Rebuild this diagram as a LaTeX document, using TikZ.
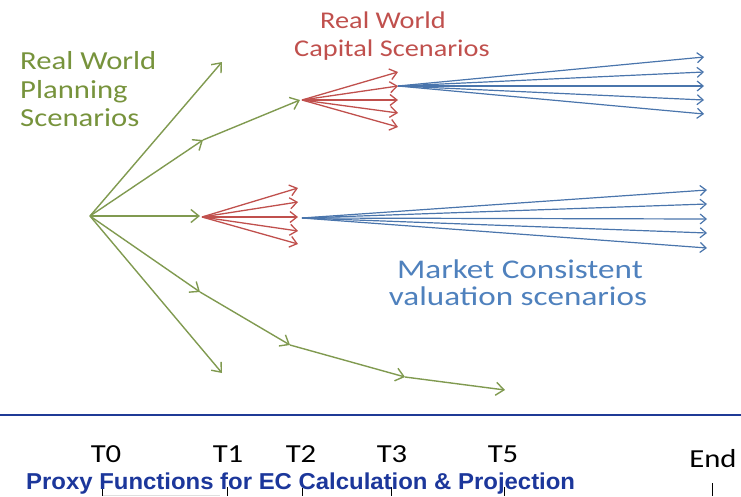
\documentclass[tikz,border=0pt]{standalone}
\usepackage{fontspec}
\setmainfont{Carlito}
\newfontfamily\titlefont{Liberation Sans}
\usetikzlibrary{arrows.meta}

\definecolor{plangreen}{RGB}{119,147,60}
\definecolor{planline}{RGB}{128,154,80}
\definecolor{capred}{RGB}{192,80,77}
\definecolor{mcblue}{RGB}{79,129,189}
\definecolor{mcline}{RGB}{74,117,172}
\definecolor{rulblue}{RGB}{31,58,150}
\definecolor{titleblue}{RGB}{28,55,155}

\tikzset{
  garr/.style={draw=planline, line width=1.4pt, -{Straight Barb[length=8pt,width=13pt,line width=1.4pt]}},
  rarr/.style={draw=capred, line width=1.3pt, -{Straight Barb[length=7pt,width=11pt,line width=1.3pt]}},
  barr/.style={draw=mcline, line width=1.2pt, -{Straight Barb[length=6pt,width=10pt,line width=1.2pt]}},
  lbl/.style={inner sep=0pt, xscale=1.18, anchor=base},
  greentxt/.style={lbl, anchor=base west, text=plangreen, font=\fontsize{26}{30}\selectfont},
  redtxt/.style={lbl, text=capred, font=\fontsize{24}{28}\selectfont},
  bluetxt/.style={lbl, text=mcblue, font=\fontsize{27}{30}\selectfont, xscale=1.04},
  timetxt/.style={lbl, text=black, font=\fontsize{26}{30}\selectfont},
  tick/.style={draw=black, line width=0.8pt},
}

\begin{document}
\begin{tikzpicture}[x=1pt,y=-1pt]
\useasboundingbox (0,0) rectangle (741,496);

% ---- branching points of the planning tree
\coordinate (O)    at (90,216);
\coordinate (up1)  at (222,62);
\coordinate (up2a) at (203,140);
\coordinate (up2b) at (300,100);
\coordinate (mid)  at (200,216);
\coordinate (dn1)  at (200,292);
\coordinate (dn2)  at (290,345);
\coordinate (dn3)  at (405,377);
\coordinate (dn4)  at (505,390);
\coordinate (dn5)  at (222,373);

% ---- real world planning scenarios (green)
\draw[garr] (O) -- (up1);
\draw[garr] (O) -- (up2a);
\draw[garr] (up2a) -- (up2b);
\draw[garr] (O) -- (mid);
\draw[garr] (O) -- (dn1);
\draw[garr] (dn1) -- (dn2);
\draw[garr] (dn2) -- (dn3);
\draw[garr] (dn3) -- (dn4);
\draw[garr] (O) -- (dn5);

% ---- capital scenarios (red fans)
\coordinate (rcA) at (302,100);
\foreach \yy [count=\i] in {72,86,100,113,127} {
  \coordinate (ra\i) at (398,\yy);
  \draw[rarr] (rcA) -- (ra\i);
}
\coordinate (rcB) at (202,217);
\foreach \yy [count=\i] in {188,202,217,231,244} {
  \coordinate (rb\i) at (298,\yy);
  \draw[rarr] (rcB) -- (rb\i);
}

% ---- market consistent valuation scenarios (blue fans)
\foreach \yy [count=\i] in {57,72,86,100,114} {
  \coordinate (ba\i) at (704,\yy);
  \draw[barr] (ra2) -- (ba\i);
}
\coordinate (bcB) at (302,218);
\foreach \yy [count=\i] in {190,204,219,233,248} {
  \coordinate (bb\i) at (707,\yy);
  \draw[barr] (bcB) -- (bb\i);
}

% ---- labels
\node[greentxt] (pl1) at (20,69)  {Real World};
\node[greentxt] (pl2) at (20,98)  {Planning};
\node[greentxt] (pl3) at (20,126) {Scenarios};

\node[redtxt] (cp1) at (383,28) {Real World};
\node[redtxt] (cp2) at (392,56) {Capital Scenarios};

\node[bluetxt] (mc1) at (520,278) {Market Consistent};
\node[bluetxt] (mc2) at (518,305) {valuation scenarios};

% ---- time axis
\draw[rulblue, line width=2.6pt] (0,415) -- (741,415);

\node[timetxt] (t0) at (106,462) {T0};
\node[timetxt] (t1) at (228,462) {T1};
\node[timetxt] (t2) at (301,462) {T2};
\node[timetxt] (t3) at (392,462) {T3};
\node[timetxt] (t5) at (503,462) {T5};
\node[timetxt] (tend) at (713,467) {End};

\draw[gray!25, line width=0.8pt] (102,495) -- (220,495);
\foreach \xx/\ytop in {102/487,227/487,302/488,391/487,504/487,712/483} {
  \draw[tick] (\xx,\ytop) -- (\xx,496);
}

\node[inner sep=0pt, anchor=base west, text=titleblue, xscale=1.04,
      font=\titlefont\bfseries\fontsize{23}{26}\selectfont] (title) at (26,489)
  {Proxy Functions for EC Calculation \& Projection};
\end{tikzpicture}
\end{document}
